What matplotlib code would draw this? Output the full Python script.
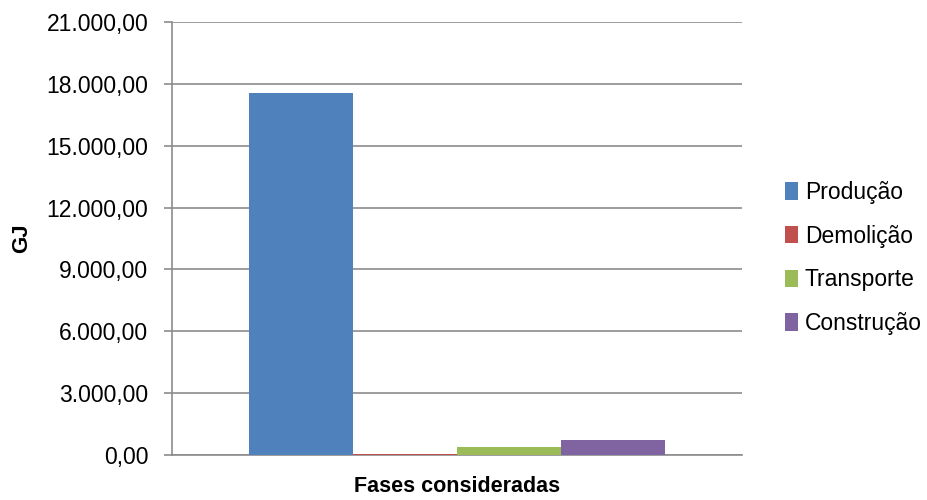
import matplotlib.pyplot as plt
import numpy as np

plt.rcParams['font.family'] = ['Liberation Sans', 'DejaVu Sans']

series = ["Produção", "Demolição", "Transporte", "Construção"]
values = [17560.0, 50.0, 370.0, 705.0]
colors = ["#4f81bd", "#c0504d", "#9bbb59", "#8064a2"]
yticks = np.arange(0, 21001, 3000)


def fmt(v):
    s = f"{v:,.2f}"
    return s.replace(",", "X").replace(".", ",").replace("X", ".")


fig = plt.figure(figsize=(9.27, 5), dpi=100)
ax = fig.add_axes([172 / 927, 45 / 500, 570 / 927, 433 / 500])

width = 0.73 / len(series)
offsets = (np.arange(len(series)) - (len(series) - 1) / 2) * width
for name, val, col, off in zip(series, values, colors, offsets):
    ax.bar(off, val, width=width, color=col, label=name, zorder=3)

ax.set_xlim(-0.5, 0.5)
ax.set_ylim(0, 21000)
ax.set_yticks(yticks)
ax.set_yticklabels([fmt(v) for v in yticks], fontsize=16.5)
ax.set_xticks([])
ax.yaxis.grid(True, color="#8c8c8c", linewidth=1.2, zorder=0)

for side in ["top", "right"]:
    ax.spines[side].set_visible(False)
for side in ["left", "bottom"]:
    ax.spines[side].set_color("#8c8c8c")
    ax.spines[side].set_linewidth(1.2)
ax.tick_params(axis="y", direction="out", length=6, width=1.2, color="#8c8c8c", pad=11)

ax.set_ylabel("GJ", fontsize=16, fontweight="bold", labelpad=10)
ax.set_xlabel("Fases consideradas", fontsize=15.5, fontweight="bold", labelpad=15)

ax.legend(loc="center left", bbox_to_anchor=(1.075, 0.455), frameon=False, fontsize=16.5,
          borderpad=0, borderaxespad=0,
          handlelength=0.57, handleheight=0.8, handletextpad=0.3, labelspacing=0.9)

fig.savefig("out.png", dpi=100)
